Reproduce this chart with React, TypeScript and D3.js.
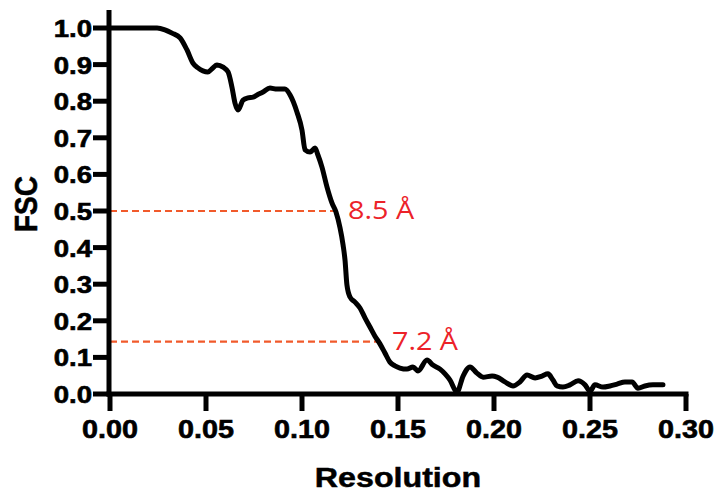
import React, { useEffect, useRef } from 'react';
import * as d3 from 'd3';

// FSC curve
const resolution = [
  0.0, 0.0078, 0.0156, 0.0245, 0.0286, 0.0323, 0.0365, 0.0401, 0.0432, 0.0458,
  0.0484, 0.051, 0.0536, 0.0557, 0.0589, 0.0615, 0.0635, 0.0651, 0.0667, 0.0693,
  0.0719, 0.0745, 0.0766, 0.0797, 0.0833, 0.087, 0.0911, 0.0938, 0.0974, 0.1,
  0.1016, 0.1042, 0.1068, 0.1083, 0.1104, 0.113, 0.1156, 0.1177, 0.1198, 0.1214,
  0.1224, 0.1234, 0.125, 0.1276, 0.1302, 0.1328, 0.1354, 0.138, 0.1406, 0.1432,
  0.1458, 0.1484, 0.151, 0.1547, 0.1578, 0.1604, 0.1651, 0.1682, 0.1719, 0.1745,
  0.1771, 0.1807, 0.1839, 0.1875, 0.1911, 0.1943, 0.199, 0.2016, 0.2057, 0.2099,
  0.2135, 0.2172, 0.2214, 0.225, 0.2281, 0.2307, 0.2328, 0.2359, 0.2396, 0.2438,
  0.2474, 0.25, 0.2526, 0.2568, 0.2604, 0.2641, 0.2682, 0.2719, 0.275, 0.2786,
  0.2828, 0.288,
];
const fsc = [
  1.0, 1.0, 1.0, 1.0, 0.995, 0.986, 0.973, 0.94, 0.904, 0.891,
  0.883, 0.88, 0.891, 0.899, 0.893, 0.88, 0.839, 0.795, 0.776, 0.803,
  0.809, 0.811, 0.817, 0.825, 0.836, 0.833, 0.833, 0.817, 0.77, 0.721,
  0.667, 0.661, 0.672, 0.653, 0.62, 0.566, 0.522, 0.497, 0.454, 0.407,
  0.366, 0.298, 0.265, 0.251, 0.235, 0.208, 0.183, 0.158, 0.137, 0.112,
  0.087, 0.077, 0.071, 0.068, 0.074, 0.063, 0.093, 0.079, 0.068, 0.055,
  0.038, 0.005, 0.049, 0.074, 0.057, 0.046, 0.049, 0.046, 0.033, 0.022,
  0.033, 0.052, 0.044, 0.049, 0.055, 0.038, 0.022, 0.019, 0.025, 0.036,
  0.025, 0.008, 0.025, 0.019, 0.022, 0.027, 0.033, 0.033, 0.016, 0.022,
  0.025, 0.025,
];

// cutoff markers
const cutoffFsc = [0.5, 0.143];
const cutoffRes = [0.1177, 0.1406];
const cutoffLabels = ['8.5 Å', '7.2 Å'];

const xTicks = [0, 0.05, 0.1, 0.15, 0.2, 0.25, 0.3];
const yTicks = [0, 0.1, 0.2, 0.3, 0.4, 0.5, 0.6, 0.7, 0.8, 0.9, 1.0];

const App = () => {
  const ref = useRef<SVGSVGElement>(null);

  useEffect(() => {
    const svg = d3.select(ref.current);
    svg.selectAll('*').remove();

    const width = 718;
    const height = 495;
    const stretch = 1.15; // the original figure is a bit wider than tall
    const bold = '"Liberation Sans", Arial, sans-serif';

    const x = d3.scaleLinear().domain([0, 0.3]).range([110, 686]);
    const y = d3.scaleLinear().domain([0, 1]).range([394, 28]);

    svg.attr('width', width).attr('height', height);

    // cutoff dashed lines
    svg
      .selectAll('line.cut')
      .data(cutoffFsc)
      .enter()
      .append('line')
      .attr('class', 'cut')
      .attr('x1', x(0))
      .attr('x2', (d, i) => x(cutoffRes[i]))
      .attr('y1', (d) => y(d))
      .attr('y2', (d) => y(d))
      .attr('stroke', '#f15a2b')
      .attr('stroke-width', 2.2)
      .attr('stroke-dasharray', '7,4');

    svg
      .selectAll('text.cut')
      .data(cutoffFsc)
      .enter()
      .append('text')
      .attr('class', 'cut')
      .attr('transform', (d, i) => `translate(${x(cutoffRes[i]) + 12},${y(d) + 8}) scale(${stretch},1)`)
      .attr('font-family', '"Open Sans", sans-serif')
      .attr('font-size', 25)
      .attr('fill', '#ec2229')
      .text((d, i) => cutoffLabels[i]);

    // curve
    const line = d3
      .line<number>()
      .x((d, i) => x(resolution[i]))
      .y((d) => y(d))
      .curve(d3.curveMonotoneX);

    svg
      .append('path')
      .datum(fsc)
      .attr('d', line)
      .attr('fill', 'none')
      .attr('stroke', '#000')
      .attr('stroke-width', 5)
      .attr('stroke-linejoin', 'round')
      .attr('stroke-linecap', 'round');

    // axes
    const axes = svg.append('g').attr('stroke', '#000').attr('stroke-width', 5);
    axes.append('line').attr('x1', 109).attr('x2', 109).attr('y1', 10).attr('y2', 396.5);
    axes.append('line').attr('x1', 106.5).attr('x2', x(0.3) + 2.5).attr('y1', y(0)).attr('y2', y(0));

    axes
      .selectAll('line.yt')
      .data(yTicks)
      .enter()
      .append('line')
      .attr('x1', 93)
      .attr('x2', 109)
      .attr('y1', (d) => y(d))
      .attr('y2', (d) => y(d));

    axes
      .selectAll('line.xt')
      .data(xTicks)
      .enter()
      .append('line')
      .attr('x1', (d) => x(d))
      .attr('x2', (d) => x(d))
      .attr('y1', y(0))
      .attr('y2', 411);

    svg
      .selectAll('text.yl')
      .data(yTicks)
      .enter()
      .append('text')
      .attr('transform', (d) => `translate(92,${y(d) + 9}) scale(${stretch},1)`)
      .attr('text-anchor', 'end')
      .attr('font-family', bold)
      .attr('font-weight', 'bold')
      .attr('font-size', 24)
      .attr('stroke', '#000')
      .attr('stroke-width', 0.6)
      .text((d) => d3.format('.1f')(d));

    svg
      .selectAll('text.xl')
      .data(xTicks)
      .enter()
      .append('text')
      .attr('transform', (d) => `translate(${x(d)},438) scale(${stretch},1)`)
      .attr('text-anchor', 'middle')
      .attr('font-family', bold)
      .attr('font-weight', 'bold')
      .attr('font-size', 25)
      .attr('stroke', '#000')
      .attr('stroke-width', 0.6)
      .text((d) => d3.format('.2f')(d));

    // titles
    svg
      .append('text')
      .attr('transform', `translate(${(x(0) + x(0.3)) / 2},487) scale(${stretch},1)`)
      .attr('text-anchor', 'middle')
      .attr('font-family', bold)
      .attr('font-weight', 'bold')
      .attr('font-size', 28)
      .attr('stroke', '#000')
      .attr('stroke-width', 0.5)
      .text('Resolution');

    svg
      .append('text')
      .attr('transform', `translate(37,204) scale(${stretch},1) rotate(-90)`)
      .attr('text-anchor', 'middle')
      .attr('font-family', bold)
      .attr('font-weight', 'bold')
      .attr('font-size', 28)
      .attr('stroke', '#000')
      .attr('stroke-width', 0.5)
      .text('FSC');
  }, []);

  return (
    <svg
      ref={ref}
      style={{ position: 'absolute', left: 0, top: 0, background: '#fff' }}
    />
  );
};

export default App;
